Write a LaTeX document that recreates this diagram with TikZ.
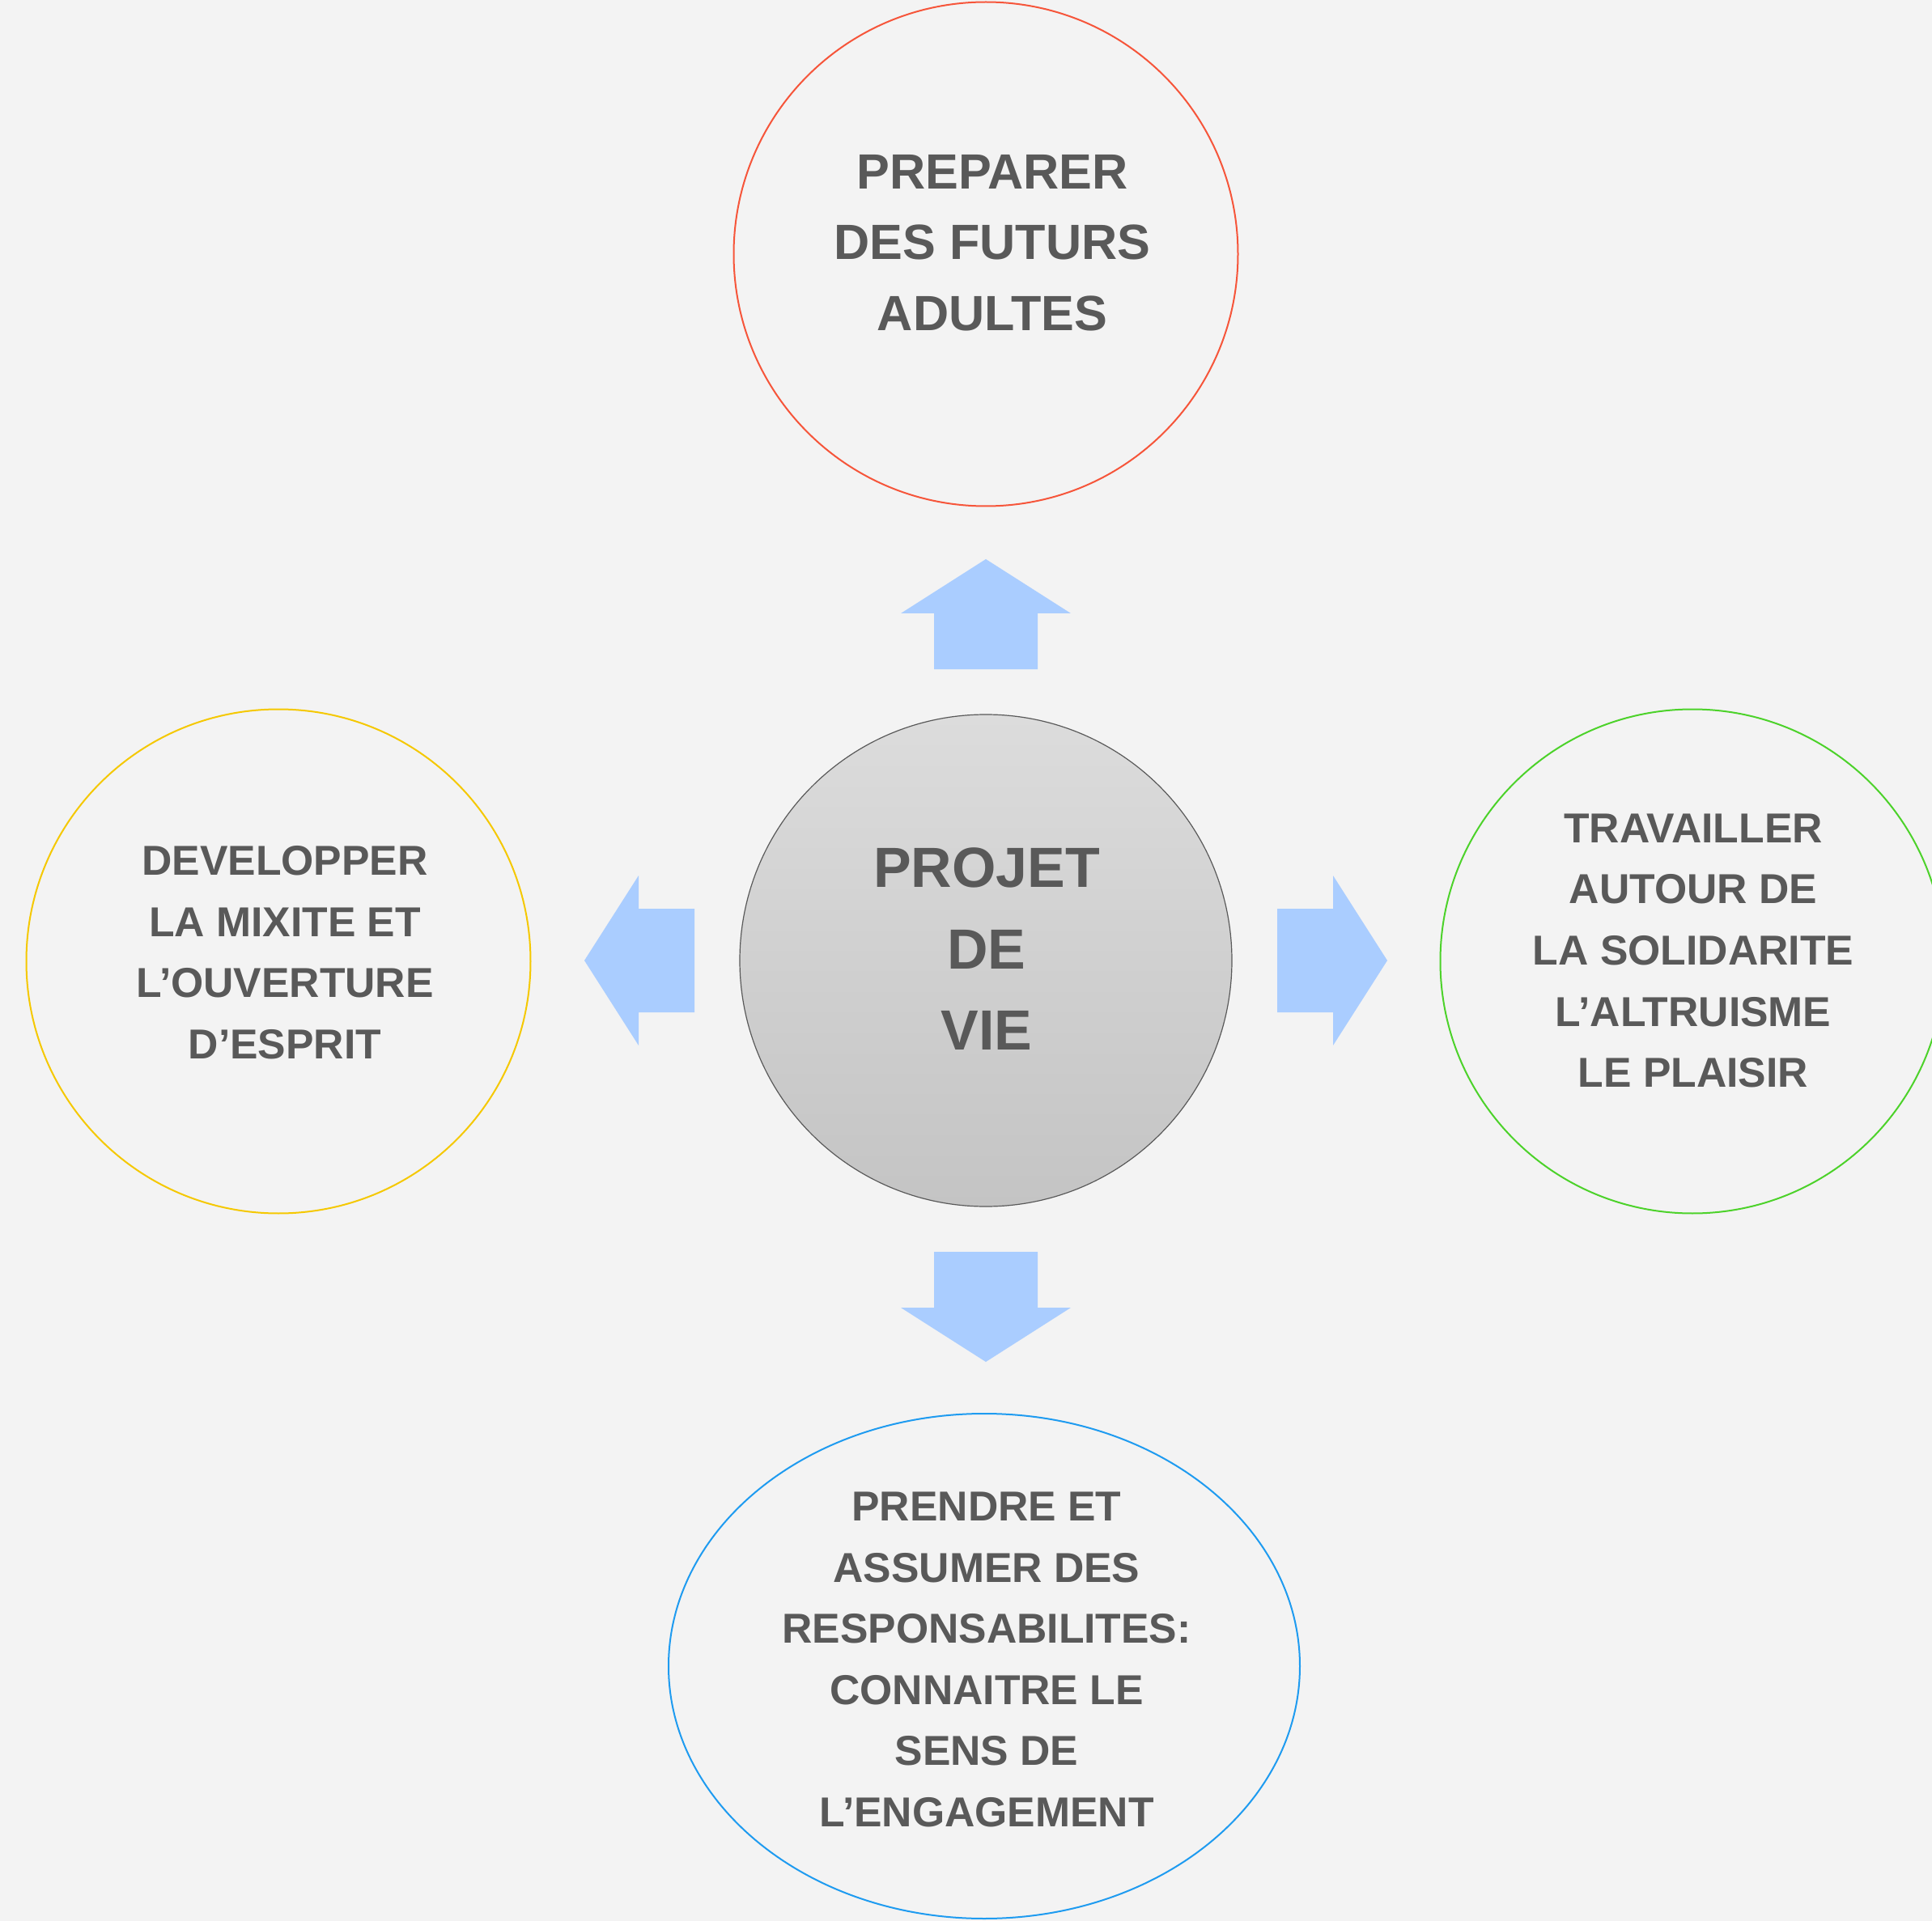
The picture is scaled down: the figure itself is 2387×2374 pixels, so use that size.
\documentclass[tikz,border=0pt]{standalone}
\usepackage{fontspec}
\setmainfont{Liberation Sans}
\usetikzlibrary{shapes.geometric}

\definecolor{paper}{HTML}{F3F3F3}
\definecolor{ink}{HTML}{595959}
\definecolor{ringred}{HTML}{F6553A}
\definecolor{ringyellow}{HTML}{F5C800}
\definecolor{ringgreen}{HTML}{4CD22A}
\definecolor{ringblue}{HTML}{1E9BF0}
\definecolor{arrowblue}{HTML}{AACDFF}
\definecolor{hubtop}{HTML}{DCDCDC}
\definecolor{hubbot}{HTML}{C4C4C4}

\begin{document}
\begin{tikzpicture}[x=0.1mm, y=-0.1mm,
  ring/.style={circle, line width=0.2mm, minimum size=62.3mm, inner sep=0pt},
  txt/.style={align=center, text=ink, inner sep=0pt, font=\fontsize{14.7}{21.5}\selectfont\bfseries},
  blockarrow/.style={fill=arrowblue}]

% page
\fill[paper] (0,0) rectangle (2387,2374);
\useasboundingbox (0,0) rectangle (2387,2374);

% circles
\node[ring, draw=ringred] (prep) at (1218,314) {};
\node[ring, draw=ringyellow] (devel) at (344,1188) {};
\node[ring, draw=ringgreen] (trav) at (2091,1188) {};
\node[ellipse, draw=ringblue, line width=0.2mm, minimum width=78mm, minimum height=62.4mm, inner sep=0pt] (prendre) at (1216,2059) {};
\node[circle, draw=ink, line width=0.12mm, minimum size=60.8mm, inner sep=0pt,
  top color=hubtop, bottom color=hubbot] (projet) at (1218,1187) {};

% arrows out of the hub
\foreach \a in {0,90,180,270}
  \fill[blockarrow, shift={(projet.center)}, rotate=\a]
    (360,-64) -- (429,-64) -- (429,-105) -- (496,0) -- (429,105) -- (429,64) -- (360,64) -- cycle;

% texts
\node[txt, font=\fontsize{17.4}{24.9}\selectfont\bfseries] (prep-t) at (1226,300) {PREPARER\\DES FUTURS\\ADULTES};
\node[txt, font=\fontsize{19.9}{28.6}\selectfont\bfseries] (projet-t) at (1219,1173) {PROJET\\DE\\VIE};
\node[txt] (devel-t) at (352,1177) {DEVELOPPER\\LA MIXITE ET\\L’OUVERTURE\\D’ESPRIT};
\node[txt] (trav-t) at (2092,1175) {TRAVAILLER\\AUTOUR DE\\LA SOLIDARITE\\L’ALTRUISME\\LE PLAISIR};
\node[txt] (prendre-t) at (1219,2051) {PRENDRE ET\\ASSUMER DES\\RESPONSABILITES:\\CONNAITRE LE\\SENS DE\\L’ENGAGEMENT};

\end{tikzpicture}
\end{document}
